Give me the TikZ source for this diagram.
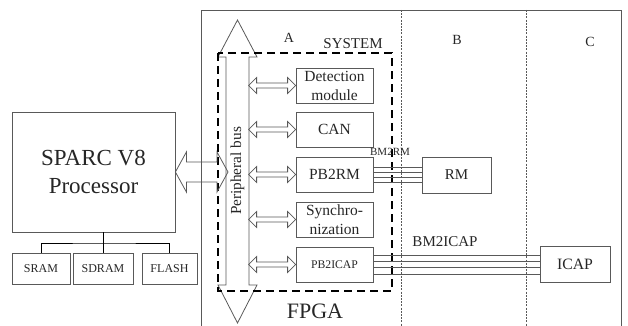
\documentclass[tikz,border=0pt]{standalone}
\usepackage{fontspec}
\setmainfont{Liberation Serif}[Ligatures=TeX]
\usetikzlibrary{calc}
\definecolor{linegray}{gray}{0.35}
\tikzset{
  box/.style={draw=linegray, line width=0.8pt, inner sep=0pt, align=center, text=black!85},
  module/.style={box, minimum width=77pt, minimum height=35pt, font=\rmfamily\fontsize{15.5}{19}\selectfont},
  memory/.style={box, minimum height=31pt, font=\rmfamily\fontsize{12}{14}\selectfont},
  hollow/.style={draw=linegray, line width=0.8pt, line join=miter},
  divider/.style={draw=linegray, line width=0.6pt, dash pattern=on 2pt off 1.2pt},
  lbl/.style={text=black!85, inner sep=0pt}
}
% hollow two-headed arrow on a horizontal line
% #1 left end, #2 right end, #3 half body, #4 half head, #5 head length
\newcommand{\hbiarrow}[5]{%
  \draw[hollow] (#1) -- ($(#1)+(#5,#4)$) -- ($(#1)+(#5,#3)$) -- ($(#2)+(-#5,#3)$)
    -- ($(#2)+(-#5,#4)$) -- (#2) -- ($(#2)+(-#5,-#4)$) -- ($(#2)+(-#5,-#3)$)
    -- ($(#1)+(#5,-#3)$) -- ($(#1)+(#5,-#4)$) -- cycle;
}
\begin{document}
\begin{tikzpicture}[x=1pt, y=-1pt]
\useasboundingbox (0,0) rectangle (628,326);

% FPGA frame and the three regions
\draw[linegray, line width=0.8pt] (201,326) |- (621,10) -- (621,326);
\draw[divider] (401,10) -- (401,326);
\draw[divider] (526,10) -- (526,326);
\node[lbl, font=\rmfamily\fontsize{14}{16}\selectfont] (labA) at (289,38) {A};
\node[lbl, font=\rmfamily\fontsize{15}{17}\selectfont] (labSys) at (353,44) {SYSTEM};
\node[lbl, font=\rmfamily\fontsize{14}{16}\selectfont] (labB) at (457,40) {B};
\node[lbl, font=\rmfamily\fontsize{14}{16}\selectfont] (labC) at (590,42) {C};
\node[lbl, font=\rmfamily\fontsize{22}{24}\selectfont] (labF) at (315,311) {FPGA};

% peripheral bus
\coordinate (bustop) at (237.5,20);
\coordinate (busbot) at (237.5,323);
\draw[hollow] (bustop) -- ($(bustop)+(19.5,37)$) -- ($(bustop)+(11.5,37)$) -- ($(busbot)+(11.5,-38)$)
  -- ($(busbot)+(19.5,-38)$) -- (busbot) -- ($(busbot)+(-19.5,-38)$) -- ($(busbot)+(-11.5,-38)$)
  -- ($(bustop)+(-11.5,37)$) -- ($(bustop)+(-19.5,37)$) -- cycle;
\node[lbl, rotate=90, font=\rmfamily\fontsize{15.3}{17}\selectfont] (busname) at (237.5,171) {Peripheral bus};

% SYSTEM boundary
\draw[black, line width=1.6pt, dash pattern=on 8pt off 5pt] (218,53) rectangle (392,291);

% modules on the bus
\node[module] (det) at (334.5,85.5) {Detection\\module};
\node[module] (can) at (334.5,129.5) {CAN};
\node[module] (pbrm) at (334.5,174.5) {PB2RM};
\node[module] (sync) at (334.5,219.5) {Synchro-\\nization};
\node[module, font=\rmfamily\fontsize{11.7}{14}\selectfont] (pbicap) at (334.5,264.5) {PB2ICAP};
\foreach \m in {det,can,pbrm,sync,pbicap}
{
    \path (\m.west) ++(-47,0) coordinate (\m-bus);
    \hbiarrow{\m-bus}{\m.west}{2.5}{8}{8}
}

% processor and memories
\node[box, minimum width=163pt, minimum height=120pt, font=\rmfamily\fontsize{23}{28}\selectfont] (sparc) at (93.5,172) {SPARC V8\\Processor};
\node[memory, minimum width=58pt] (sram) at (41,268.5) {SRAM};
\node[memory, minimum width=60pt] (sdram) at (103,268.5) {SDRAM};
\node[memory, minimum width=55pt] (flash) at (169.5,268.5) {FLASH};
\coordinate (tree) at (103,243);
\draw[black, line width=1pt] (sdram.north |- sparc.south) -- (sdram.north);
\draw[black, line width=1pt] (sram.north) |- (tree) -| (flash.north);
\coordinate (bus-l) at (228,172);
\hbiarrow{sparc.east}{bus-l}{10}{20}{11}

% reconfigurable side
\node[box, minimum width=69pt, minimum height=36pt, font=\rmfamily\fontsize{15}{17}\selectfont] (rm) at (456.5,175) {RM};
\node[box, minimum width=70pt, minimum height=36pt, font=\rmfamily\fontsize{15.8}{17}\selectfont] (icap) at (575,264) {ICAP};
\foreach \d in {-7.5,-2.5,2.5,7.5}
{
    \draw[linegray, line width=0.8pt] ($(pbrm.east)+(0,\d)$) -- ($(pbrm.east -| rm.west)+(0,\d)$);
}
\foreach \d in {-9.5,-3.2,3.2,9.5}
{
    \draw[linegray, line width=0.8pt] ($(pbicap.east)+(0,\d)$) -- ($(pbicap.east -| icap.west)+(0,\d)$);
}
\node[lbl, font=\rmfamily\fontsize{11}{13}\selectfont] (lblrm) at (390,152) {BM2RM};
\node[lbl, font=\rmfamily\fontsize{15}{17}\selectfont] (lblicap) at (445,242) {BM2ICAP};

\end{tikzpicture}
\end{document}
